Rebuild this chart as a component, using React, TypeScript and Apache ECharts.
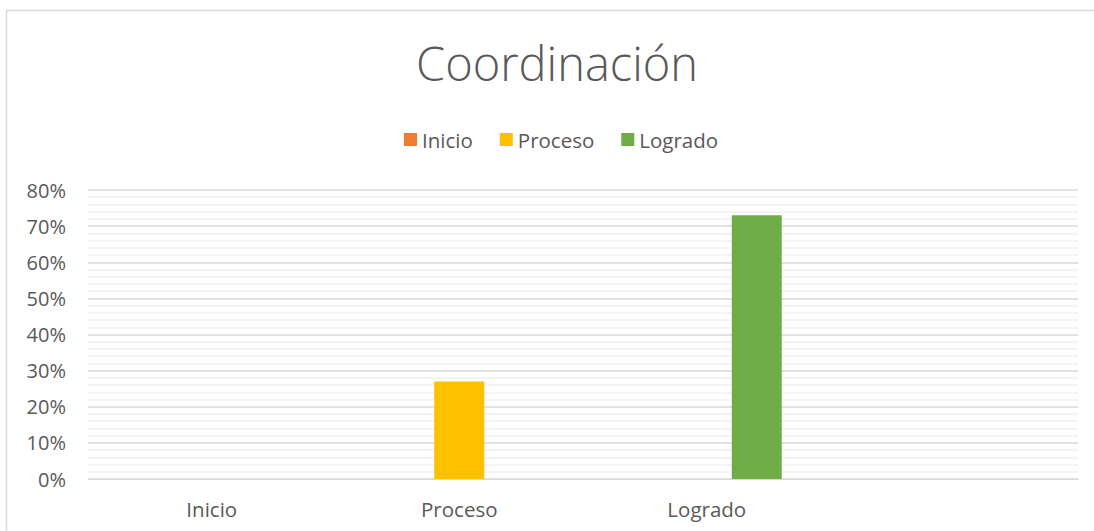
import React, { useEffect, useRef } from "react";
import * as echarts from "echarts";

const categories = ["Inicio", "Proceso", "Logrado", ""];
const seriesNames = ["Inicio", "Proceso", "Logrado"];
const inicioValues = [0, null, null, null];
const procesoValues = [null, 0.27, null, null];
const logradoValues = [null, null, 0.73, null];
const yTicks = [0, 0.1, 0.2, 0.3, 0.4, 0.5, 0.6, 0.7, 0.8];
const colors = ["#ED7D31", "#FFC000", "#70AD47"];

const FONT = "'Open Sans', 'Noto Sans', sans-serif";

export default function App() {
  const ref = useRef<HTMLDivElement>(null);
  useEffect(() => {
    if (!ref.current) return;
    const chart = echarts.init(ref.current, undefined, { renderer: "svg" });
    const values = [inicioValues, procesoValues, logradoValues];
    chart.setOption({
      animation: false,
      backgroundColor: "#ffffff",
      title: {
        text: "Coordinación",
        left: 411,
        top: 34,
        textStyle: { fontFamily: FONT, fontWeight: 300, fontSize: 47, color: "#595959" },
      },
      legend: {
        top: 124,
        left: 399,
        itemWidth: 13,
        itemHeight: 13,
        itemGap: 27,
        icon: "rect",
        textStyle: { fontFamily: FONT, fontSize: 20.5, color: "#595959" },
        data: seriesNames,
      },
      grid: { left: 88, right: 16, top: 190, bottom: 52, containLabel: false },
      xAxis: {
        type: "category",
        data: categories,
        axisLine: { show: true, lineStyle: { color: "#d9d9d9", width: 1 } },
        axisTick: { show: false },
        axisLabel: { fontFamily: FONT, fontSize: 20.5, color: "#595959", margin: 19 },
      },
      yAxis: {
        type: "value",
        min: yTicks[0],
        max: yTicks[yTicks.length - 1],
        interval: 0.1,
        axisLine: { show: false },
        axisTick: { show: false },
        axisLabel: {
          fontFamily: FONT,
          fontSize: 20,
          color: "#595959",
          margin: 22,
          formatter: (v: number) => Math.round(v * 100) + "%",
        },
        splitLine: { show: true, lineStyle: { color: "#d9d9d9", width: 1.5 } },
        minorTick: { show: false, splitNumber: 5 },
        minorSplitLine: { show: true, lineStyle: { color: "#f0f0f0", width: 1.5 } },
      },
      series: seriesNames.map((name, i) => ({
        name,
        type: "bar",
        data: values[i],
        barWidth: 50,
        barGap: "0%",
        itemStyle: { color: colors[i] },
      })),
      graphic: [
        {
          type: "rect",
          shape: { x: 6.5, y: 10.5, width: 1200, height: 600 },
          style: { fill: "none", stroke: "#d9d9d9", lineWidth: 1.5 },
          silent: true,
        },
      ],
    });
    return () => chart.dispose();
  }, []);
  return (
    <div
      ref={ref}
      style={{ position: "fixed", left: 0, top: 0, width: 1094, height: 531 }}
    />
  );
}
